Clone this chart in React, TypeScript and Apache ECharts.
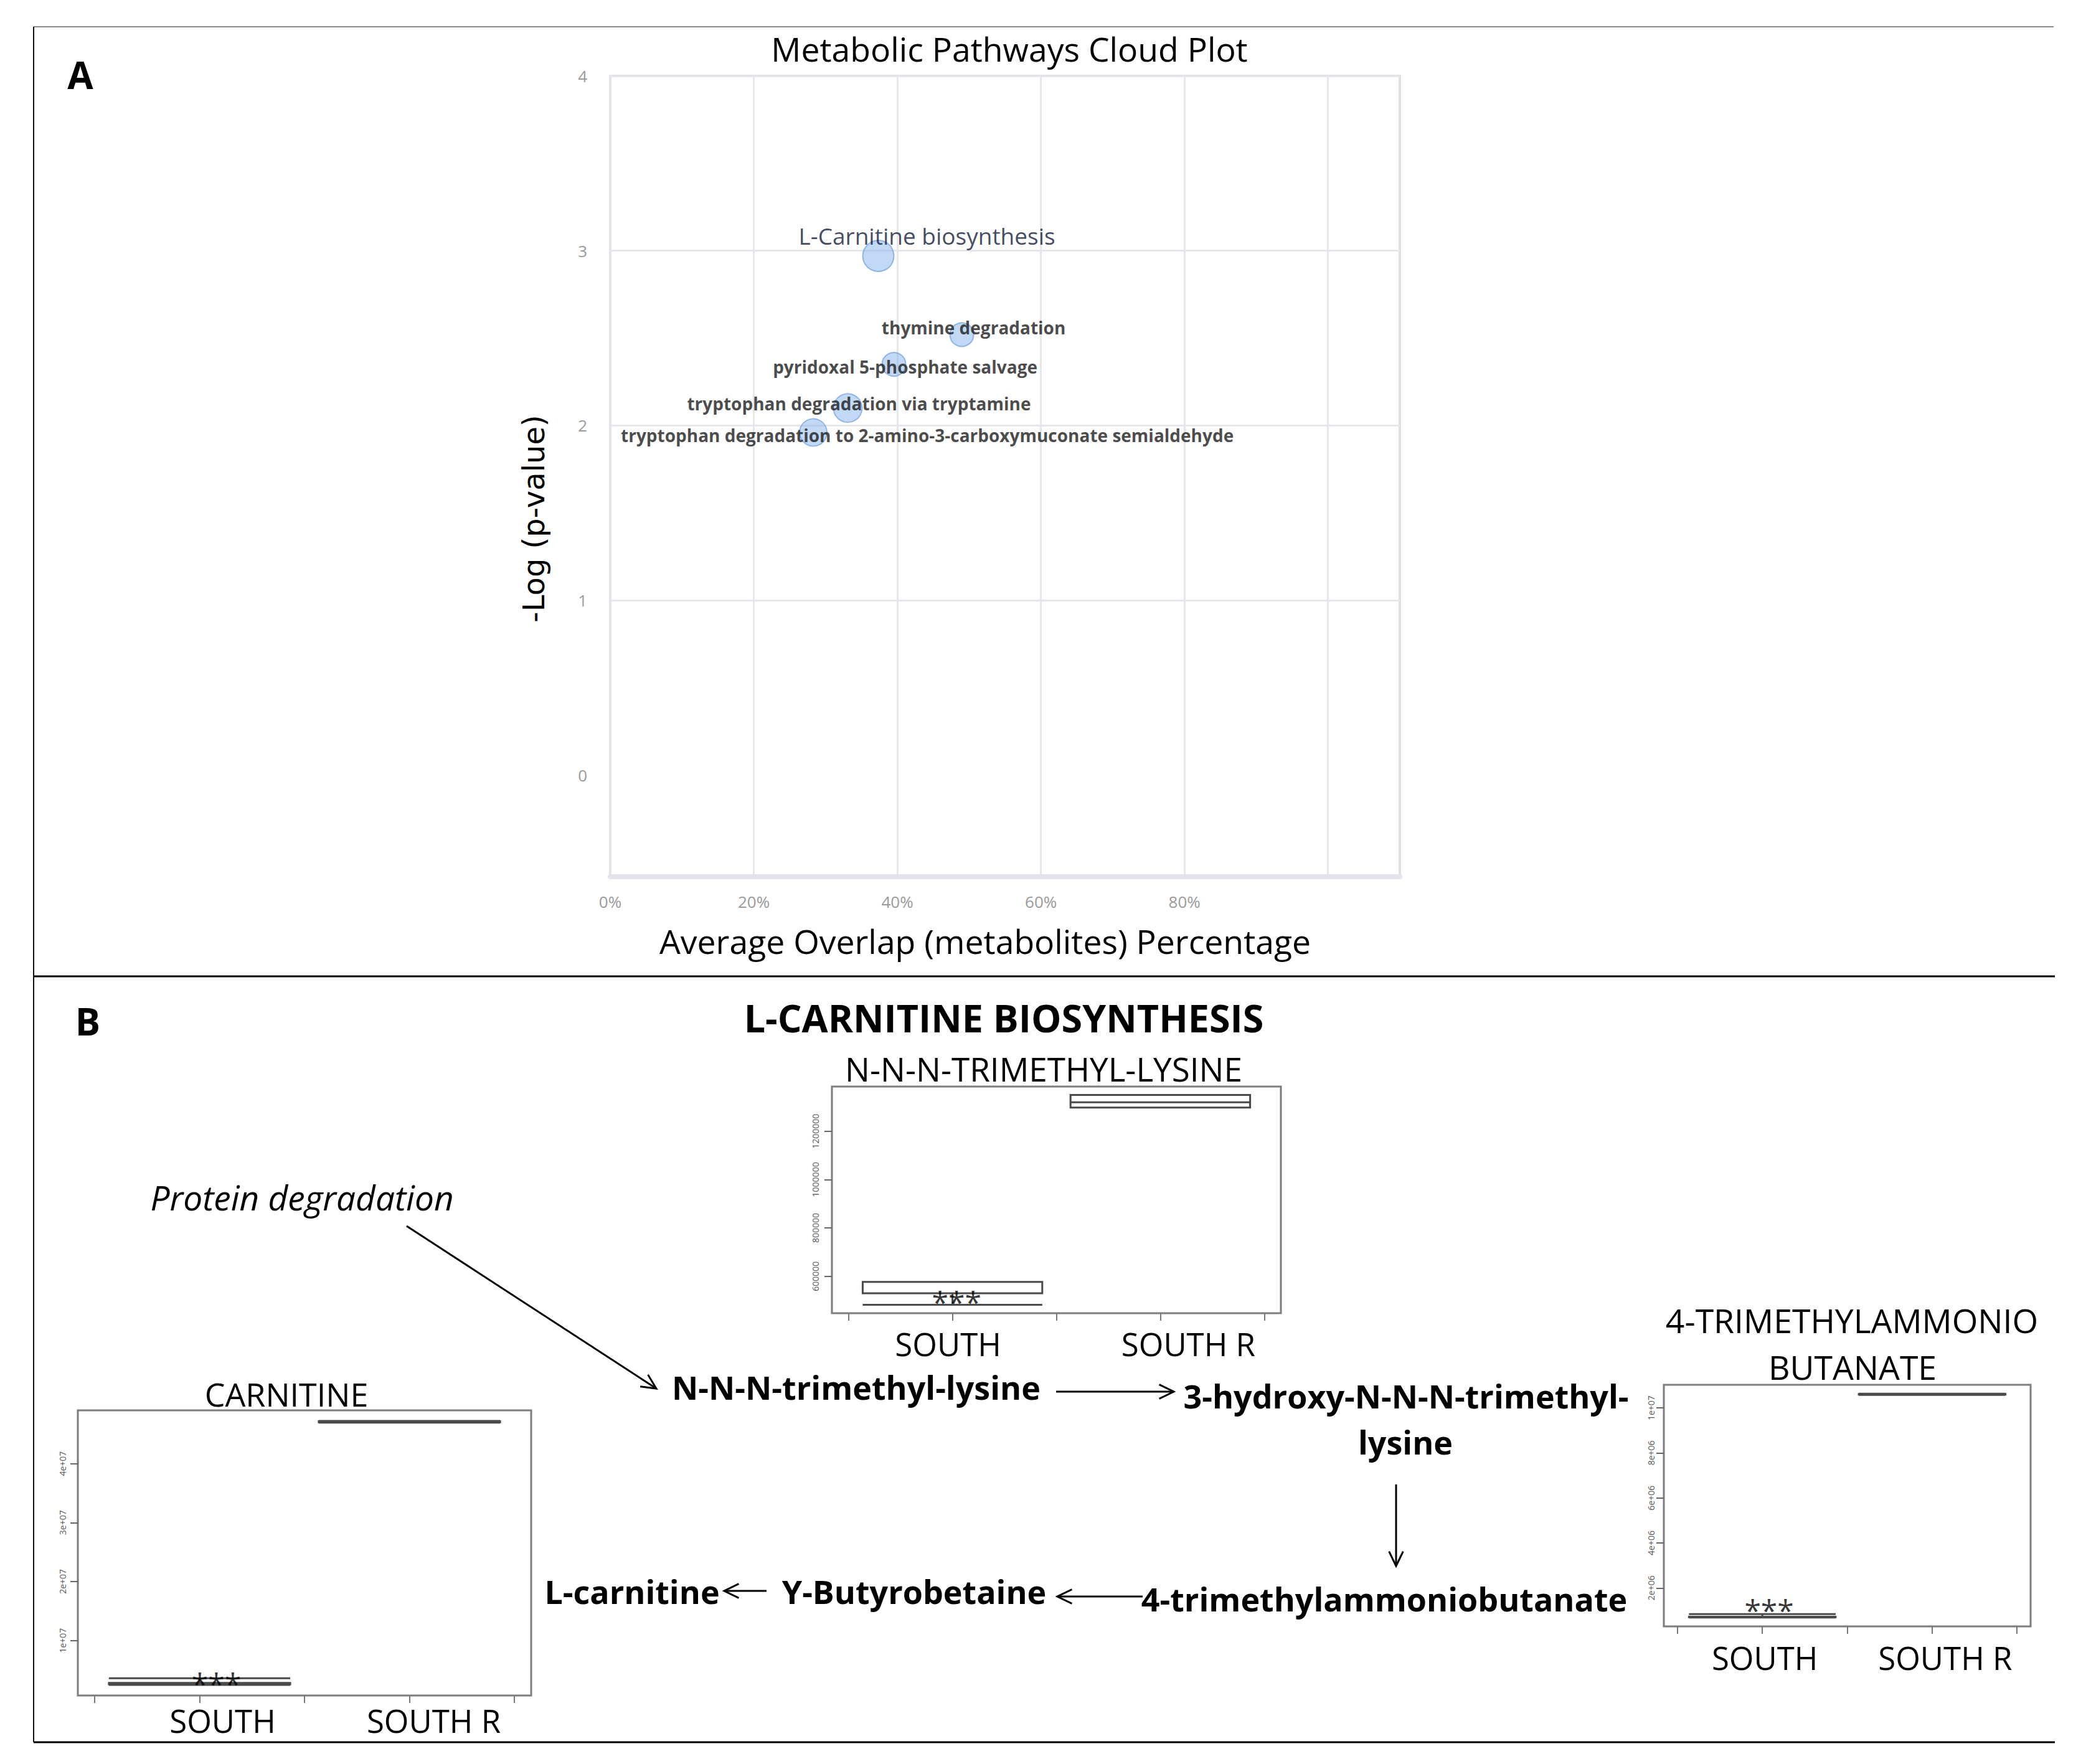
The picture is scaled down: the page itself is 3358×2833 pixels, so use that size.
import React, { useEffect, useRef } from "react";
import * as echarts from "echarts";

// ---------------- Panel A: Metabolic Pathways Cloud Plot ----------------
const PATHWAYS = [
  "L-Carnitine biosynthesis",
  "thymine degradation",
  "pyridoxal 5-phosphate salvage",
  "tryptophan degradation via tryptamine",
  "tryptophan degradation to 2-amino-3-carboxymuconate semialdehyde",
];
const OVERLAP_PCT = [37.35, 48.98, 39.52, 33.09, 28.29];
const NEG_LOG_P = [2.97, 2.52, 2.35, 2.1, 1.96];
const PATHWAY_BUBBLE = [50, 38, 38, 46, 44];
const X_TICK_VALUES = [0, 20, 40, 60, 80];
const X_GRID_VALUES = [0, 20, 40, 60, 80, 100];
const Y_TICK_VALUES = [0, 1, 2, 3, 4];
const Y_GRID_VALUES = [1, 2, 3, 4];

// ---------------- Panel B: box plots ----------------
const GROUPS = ["SOUTH", "SOUTH R"];
// [min, Q1, median, Q3, max]
const TML_SOUTH = [482000, 530000, 577000, 577000, 577000];
const TML_SOUTH_R = [1298000, 1298000, 1320000, 1350000, 1350000];
const TML_TICKS = [600000, 800000, 1000000, 1200000];
const CARN_SOUTH = [2450000, 2550000, 2650000, 2800000, 3600000];
const CARN_SOUTH_R = [46950000, 47000000, 47100000, 47200000, 47250000];
const CARN_TICKS = [10000000, 20000000, 30000000, 40000000];
const TMAB_SOUTH = [690000, 700000, 703000, 720000, 840000];
const TMAB_SOUTH_R = [10580000, 10600000, 10607000, 10620000, 10630000];
const TMAB_TICKS = [2000000, 4000000, 6000000, 8000000, 10000000];
const BOX_X_TICKS = [0.5, 1, 1.5, 2, 2.5];
const SIG_LABEL = "***";
const TML_SIG = [1.02, 518000];
const CARN_SIG = [1.08, 3640000];
const TMAB_SIG = [1.04, 1280000];

const FONT = "'Open Sans', 'Liberation Sans', sans-serif";

function rRange(lo: number, hi: number) {
  const pad = 0.04 * (hi - lo);
  return [lo - pad, hi + pad];
}

function rSci(v: number) {
  const e = Math.floor(Math.log10(v) + 1e-9);
  const m = Math.round(v / Math.pow(10, e));
  return `${m}e+${String(e).padStart(2, "0")}`;
}

function arrowParts(x1: number, y1: number, x2: number, y2: number, head = 26, w = 3) {
  const ang = Math.atan2(y2 - y1, x2 - x1);
  const a1 = ang + Math.PI - 0.45;
  const a2 = ang + Math.PI + 0.45;
  return [
    {
      type: "line",
      shape: { x1, y1, x2, y2 },
      style: { stroke: "#000", lineWidth: w },
    },
    {
      type: "polyline",
      shape: {
        points: [
          [x2 + head * Math.cos(a1), y2 + head * Math.sin(a1)],
          [x2, y2],
          [x2 + head * Math.cos(a2), y2 + head * Math.sin(a2)],
        ],
      },
      style: { stroke: "#000", lineWidth: w, fill: null },
    },
  ];
}

function txt(
  text: string,
  x: number,
  y: number,
  fontSize: number,
  opts: { weight?: string; style?: string; family?: string } = {}
) {
  return {
    type: "text",
    x,
    y,
    style: {
      text,
      fontSize,
      fontFamily: opts.family || FONT,
      fontWeight: opts.weight || "normal",
      fontStyle: opts.style || "normal",
      fill: "#000",
      align: "center",
      verticalAlign: "middle",
    },
  };
}

function buildOption() {
  const LABEL_OFFSETS = [
    [78, -33],
    [19, -11],
    [18, 4],
    [18, -7],
    [183, 4],
  ];

  const boxPanels = [
    {
      grid: { left: 1336, top: 1745, width: 721, height: 364 },
      south: TML_SOUTH,
      southR: TML_SOUTH_R,
      ticks: TML_TICKS,
      fmt: (v: number) => String(v),
      sig: TML_SIG,
      shift: [-7, 45],
      labelMargin: 23,
      yLabelMargin: 20,
    },
    {
      grid: { left: 125, top: 2265, width: 728, height: 458 },
      south: CARN_SOUTH,
      southR: CARN_SOUTH_R,
      ticks: CARN_TICKS,
      fmt: rSci,
      sig: CARN_SIG,
      shift: [37, 39],
      labelMargin: 14,
      yLabelMargin: 18,
    },
    {
      grid: { left: 2672, top: 2224, width: 589, height: 388 },
      south: TMAB_SOUTH,
      southR: TMAB_SOUTH_R,
      ticks: TMAB_TICKS,
      fmt: rSci,
      sig: TMAB_SIG,
      shift: [4, 21],
      labelMargin: 24,
      yLabelMargin: 14,
    },
  ];

  const grids: any[] = [
    {
      left: 980,
      top: 122,
      width: 1268,
      height: 1286,
      show: true,
      borderColor: "#dfe0e4",
      borderWidth: 4,
    },
  ];
  const xAxes: any[] = [
    {
      type: "value",
      gridIndex: 0,
      min: 0,
      max: 110,
      axisLine: { show: true, onZero: false, lineStyle: { color: "#e2e4ea", width: 8 } },
      axisTick: { show: false, customValues: X_GRID_VALUES },
      axisLabel: {
        customValues: X_TICK_VALUES,
        formatter: (v: number) => `${v}%`,
        color: "#9a9a9a",
        fontSize: 26,
        fontFamily: FONT,
        margin: 27,
      },
      splitLine: { show: true, lineStyle: { color: "#e6e7ea", width: 3 } },
      name: "Average Overlap (metabolites) Percentage",
      nameLocation: "middle",
      nameGap: 76,
      nameTextStyle: { fontSize: 53.5, fontFamily: FONT, color: "#000", padding: [0, 64, 0, 0] },
    },
  ];
  const yAxes: any[] = [
    {
      type: "value",
      gridIndex: 0,
      min: -0.582,
      max: 4,
      axisLine: { show: true, onZero: false, lineStyle: { color: "#e2e4ea", width: 4 } },
      axisTick: { show: false, customValues: Y_GRID_VALUES },
      axisLabel: {
        customValues: Y_TICK_VALUES,
        color: "#9a9a9a",
        fontSize: 26,
        fontFamily: FONT,
        margin: 37,
      },
      splitLine: { show: true, lineStyle: { color: "#e6e7ea", width: 3 } },
      name: "-Log (p-value)",
      nameLocation: "middle",
      nameRotate: 90,
      nameGap: 99,
      nameTextStyle: { fontSize: 48, fontFamily: "'DejaVu Sans', sans-serif", color: "#000", padding: [0, 136, 0, 0] },
    },
  ];
  const series: any[] = [
    {
      type: "scatter",
      xAxisIndex: 0,
      yAxisIndex: 0,
      symbol: "circle",
      data: PATHWAYS.map((name, i) => ({
        name,
        value: [OVERLAP_PCT[i], NEG_LOG_P[i]],
        symbolSize: PATHWAY_BUBBLE[i],
        label:
          i === 0
            ? { offset: LABEL_OFFSETS[i], fontWeight: "normal", fontSize: 37, color: "#111a3a" }
            : { offset: LABEL_OFFSETS[i] },
      })),
      itemStyle: {
        color: "rgba(132,178,234,0.62)",
        borderColor: "rgba(105,155,222,0.85)",
        borderWidth: 2,
      },
      label: {
        show: true,
        position: "inside",
        formatter: "{b}",
        fontFamily: FONT,
        fontWeight: "bold",
        fontSize: 28,
        color: "#1a1a1a",
      },
      emphasis: { disabled: true },
    },
  ];

  boxPanels.forEach((p, k) => {
    const gi = k + 1;
    const all = [...p.south, ...p.southR];
    const [ymin, ymax] = rRange(Math.min(...all), Math.max(...all));
    grids.push({ ...p.grid, show: true, borderColor: "#7d7d7d", borderWidth: 3 });
    const rich: any = {};
    p.shift.forEach((dx, i) => {
      rich[`g${i}`] = {
        fontSize: 51,
        fontFamily: FONT,
        color: "#000",
        padding: dx >= 0 ? [0, 0, 0, 2 * dx] : [0, -2 * dx, 0, 0],
      };
    });
    xAxes.push({
      type: "value",
      gridIndex: gi,
      min: 0.42,
      max: 2.58,
      axisLine: { show: false, onZero: false },
      axisTick: {
        show: true,
        customValues: BOX_X_TICKS,
        length: 12,
        lineStyle: { color: "#777", width: 2 },
      },
      axisLabel: {
        customValues: [1, 2],
        formatter: (v: number) => {
          const i = Math.round(v) - 1;
          return `{g${i}|${GROUPS[i]}}`;
        },
        rich,
        margin: p.labelMargin,
      },
      splitLine: { show: false },
    });
    yAxes.push({
      type: "value",
      gridIndex: gi,
      min: ymin,
      max: ymax,
      axisLine: { show: false, onZero: false },
      axisTick: {
        show: true,
        customValues: p.ticks,
        length: 12,
        lineStyle: { color: "#666", width: 2 },
      },
      axisLabel: {
        customValues: p.ticks,
        formatter: p.fmt,
        rotate: 90,
        fontSize: 14,
        fontFamily: FONT,
        color: "#555",
        margin: p.yLabelMargin,
      },
      splitLine: { show: false },
    });
    series.push({
      type: "boxplot",
      xAxisIndex: gi,
      yAxisIndex: gi,
      boxWidth: ["80%", "80%"],
      data: [
        [1, ...p.south],
        [2, ...p.southR],
      ],
      itemStyle: { color: "rgba(0,0,0,0)", borderColor: "#4a4a4a", borderWidth: 3 },
      emphasis: { disabled: true },
    });
    series.push({
      type: "scatter",
      xAxisIndex: gi,
      yAxisIndex: gi,
      symbolSize: 1,
      itemStyle: { color: "rgba(0,0,0,0)" },
      data: [p.sig],
      label: {
        show: true,
        position: "inside",
        formatter: SIG_LABEL,
        fontSize: 48,
        fontFamily: FONT,
        color: "#000",
        offset: [0, 9],
      },
      emphasis: { disabled: true },
    });
  });

  const graphic: any[] = [
    // frame
    { type: "line", shape: { x1: 54, y1: 43, x2: 3298, y2: 43 }, style: { stroke: "#8c8c8c", lineWidth: 2 } },
    { type: "line", shape: { x1: 54, y1: 43, x2: 54, y2: 2798 }, style: { stroke: "#111", lineWidth: 2 } },
    { type: "line", shape: { x1: 54, y1: 1568, x2: 3300, y2: 1568 }, style: { stroke: "#000", lineWidth: 3 } },
    { type: "line", shape: { x1: 54, y1: 2798, x2: 3300, y2: 2798 }, style: { stroke: "#000", lineWidth: 3 } },
    // texts
    txt("A", 129, 120, 60, { weight: "bold" }),
    txt("Metabolic Pathways Cloud Plot", 1621, 78, 53.5),
    txt("B", 141, 1640, 60, { weight: "bold" }),
    txt("L-CARNITINE BIOSYNTHESIS", 1612, 1634, 61, { weight: "bold" }),
    txt("N-N-N-TRIMETHYL-LYSINE", 1676, 1716, 53),
    txt("CARNITINE", 460, 2238, 52),
    txt("4-TRIMETHYLAMMONIO", 2974, 2120, 53.5),
    txt("BUTANATE", 2975, 2195, 53.5),
    txt("Protein degradation", 485, 1922, 55, { style: "italic" }),
    txt("N-N-N-trimethyl-lysine", 1375, 2227, 52, { weight: "bold" }),
    txt("3-hydroxy-N-N-N-trimethyl-", 2258, 2241, 52, { weight: "bold" }),
    txt("lysine", 2257, 2315, 52, { weight: "bold" }),
    txt("4-trimethylammoniobutanate", 2223, 2567, 52, { weight: "bold" }),
    txt("Υ-Butyrobetaine", 1468, 2555, 52, { weight: "bold" }),
    txt("L-carnitine", 1015, 2555, 52, { weight: "bold" }),
    // arrows
    ...arrowParts(653, 1969, 1054, 2230),
    ...arrowParts(1696, 2235, 1885, 2235),
    ...arrowParts(2242, 2384, 2242, 2515),
    ...arrowParts(1835, 2564, 1698, 2564),
    ...arrowParts(1231, 2555, 1163, 2555),
  ];

  return {
    animation: false,
    backgroundColor: "#fff",
    grid: grids,
    xAxis: xAxes,
    yAxis: yAxes,
    series,
    graphic: { elements: graphic },
  };
}

export default function App() {
  const ref = useRef<HTMLDivElement>(null);
  useEffect(() => {
    document.body.style.margin = "0";
    const chart = echarts.init(ref.current as HTMLDivElement, null, { renderer: "svg" });
    chart.setOption(buildOption() as any);
    return () => chart.dispose();
  }, []);
  return <div ref={ref} style={{ width: 3358, height: 2833 }} />;
}
